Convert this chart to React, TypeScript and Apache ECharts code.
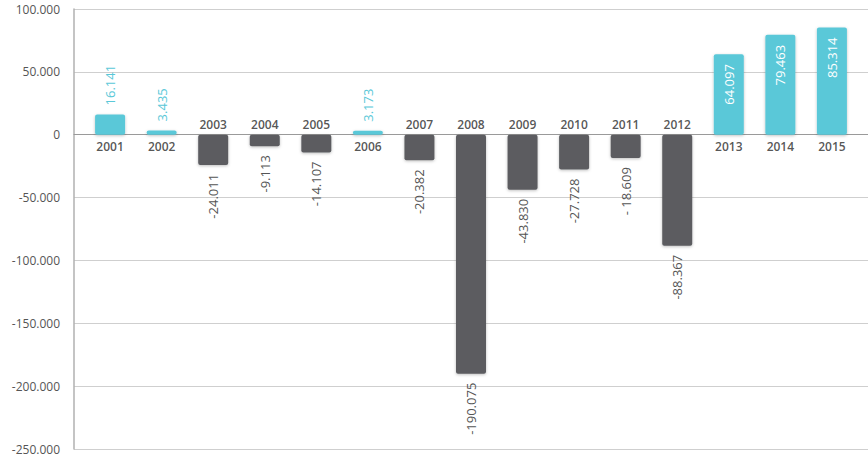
import React, { useEffect, useRef } from "react";
import * as echarts from "echarts";

const years = ["2001","2002","2003","2004","2005","2006","2007","2008","2009","2010","2011","2012","2013","2014","2015"];
const values = [16141, 3435, -24011, -9113, -14107, 3173, -20382, -190075, -43830, -27728, -18609, -88367, 64097, 79463, 85314];
const valueLabels = ["16.141","3.435","-24.011","-9.113","-14.107","3.173","-20.382","-190.075","-43.830","-27.728","- 18.609","-88.367","64.097","79.463","85.314"];
const yTicks = { min: -250000, max: 100000, interval: 50000 };

const CYAN = "#5ac8d8";
const GRAY = "#5b5c60";
const FONT = "'Open Sans', 'Noto Sans', sans-serif";

function fmt(v: number): string {
  if (v === 0) return "0";
  const s = String(Math.abs(v)).replace(/\B(?=(\d{3})+(?!\d))/g, ".");
  return (v < 0 ? "-" : "") + s;
}

export default function App() {
  const ref = useRef<HTMLDivElement>(null);
  useEffect(() => {
    if (!ref.current) return;
    const chart = echarts.init(ref.current, null, { renderer: "svg" });
    const barData = values.map((v, i) => {
      let label: any;
      if (v >= 0 && v > 40000) {
        label = { show: true, position: "insideTop", rotate: 90, align: "right", verticalAlign: "middle", distance: 10, color: "#ffffff" };
      } else if (v >= 0) {
        label = { show: true, position: "top", rotate: 90, align: "left", verticalAlign: "middle", distance: 9, color: CYAN };
      } else {
        label = { show: true, position: "bottom", rotate: 90, align: "right", verticalAlign: "middle", distance: 9, color: "#555555" };
      }
      return {
        value: [i, v],
        itemStyle: { color: v >= 0 ? CYAN : GRAY },
        label: { ...label, formatter: () => valueLabels[i], fontSize: 13, fontFamily: FONT },
      };
    });
    const yearData = years.map((y, i) => ({
      value: [i, 0],
      label: {
        show: true,
        position: values[i] >= 0 ? "bottom" : "top",
        distance: values[i] >= 0 ? 6 : 4,
        formatter: () => y,
        color: "#2a2a2a",
        fontSize: 12,
        fontWeight: 600,
        fontFamily: FONT,
      },
    }));
    chart.setOption({
      animation: false,
      grid: { left: 74, right: 0, top: 9, bottom: 7, containLabel: false },
      xAxis: {
        type: "value",
        min: -0.7,
        max: 14.7,
        axisLine: { show: true, onZero: true, lineStyle: { color: "#9a9a9a", width: 1.2 } },
        axisTick: { show: false },
        axisLabel: { show: false },
        splitLine: { show: false },
      },
      yAxis: {
        type: "value",
        min: yTicks.min,
        max: yTicks.max,
        interval: yTicks.interval,
        axisLine: { show: true, onZero: false, lineStyle: { color: "#b0b0b0", width: 1.5 } },
        axisTick: { show: false },
        axisLabel: { color: "#555555", fontSize: 12, fontFamily: FONT, margin: 14, formatter: (v: number) => fmt(v) },
        splitLine: { show: true, lineStyle: { color: "#cfcfcf", width: 1 } },
      },
      series: [
        {
          type: "bar",
          barWidth: 30,
          data: barData,
          itemStyle: { borderRadius: 2, shadowBlur: 3, shadowColor: "rgba(0,0,0,0.25)", shadowOffsetY: 1 },
          z: 2,
        },
        {
          type: "scatter",
          symbolSize: 0,
          data: yearData,
          itemStyle: { color: "rgba(0,0,0,0)" },
          z: 3,
          silent: true,
        },
      ],
    });
    return () => chart.dispose();
  }, []);
  return <div ref={ref} style={{ position: "fixed", left: 0, top: 0, width: 868, height: 456, background: "#fff" }} />;
}
